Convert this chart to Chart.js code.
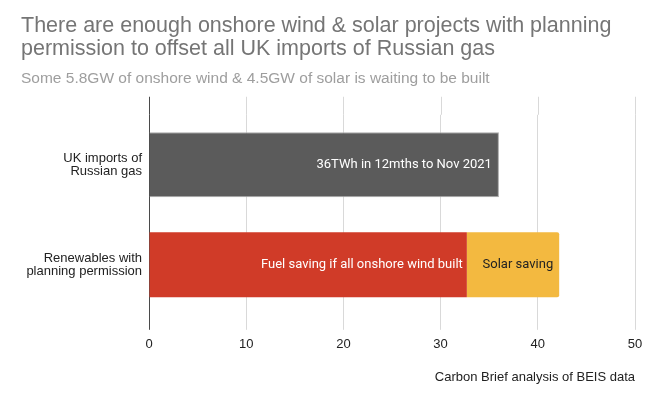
<!DOCTYPE html>
<html>
<head>
<meta charset="utf-8">
<script src="https://cdn.jsdelivr.net/npm/chart.js@4"></script>
<style>
  html, body { margin: 0; padding: 0; background: #ffffff; }
  #wrap { width: 654px; height: 399px; }
</style>
</head>
<body>
<div id="wrap"><canvas id="c" width="654" height="399"></canvas></div>
<script>
// ---- data ----
const categories = [["UK imports of", "Russian gas"], ["Renewables with", "planning permission"]];
const importsValues = [36, null];
const windValues = [null, 32.7];
const solarValues = [null, 9.5];
const importsLabel = "36TWh in 12mths to Nov 2021";
const windLabel = "Fuel saving if all onshore wind built";
const solarLabel = "Solar saving";
const xTicks = [0, 10, 20, 30, 40, 50];
const titleLines = ["There are enough onshore wind & solar projects with planning", "permission to offset all UK imports of Russian gas"];
const subtitleText = "Some 5.8GW of onshore wind & 4.5GW of solar is waiting to be built";
const sourceText = "Carbon Brief analysis of BEIS data";

const GRID = '#d9d9d9';
const AXIS0 = '#4a4a4a';

const barLabelPlugin = {
  id: 'barLabels',
  afterDatasetsDraw(chart) {
    const ctx = chart.ctx;
    ctx.save();
    ctx.font = '13px Roboto';
    ctx.textAlign = 'right';
    ctx.textBaseline = 'middle';
    chart.data.datasets.forEach((ds, i) => {
      const meta = chart.getDatasetMeta(i);
      meta.data.forEach((el, j) => {
        if (ds.data[j] == null) return;
        ctx.fillStyle = ds.labelColor;
        ctx.fillText(ds.barText, el.x - ds.labelPad, el.y);
      });
    });
    ctx.restore();
  }
};

const gridExtPlugin = {
  id: 'gridExt',
  beforeDatasetsDraw(chart) {
    const sx = chart.scales.x;
    const area = chart.chartArea;
    const ctx = chart.ctx;
    ctx.save();
    ctx.lineWidth = 1;
    sx.ticks.forEach(t => {
      const px = Math.round(sx.getPixelForValue(t.value)) + 0.5;
      ctx.strokeStyle = t.value === 0 ? AXIS0 : GRID;
      ctx.beginPath();
      ctx.moveTo(px, area.top - 18);
      ctx.lineTo(px, area.top);
      ctx.stroke();
    });
    ctx.restore();
  }
};

new Chart(document.getElementById('c'), {
  type: 'bar',
  data: {
    labels: categories,
    datasets: [
      { data: importsValues, backgroundColor: '#5b5b5b', borderColor: '#a9a9a9', borderWidth: 1,
        barText: importsLabel, labelColor: '#ffffff', labelPad: 7 },
      { data: windValues, backgroundColor: '#d03b28', borderWidth: 0,
        barText: windLabel, labelColor: '#ffffff', labelPad: 4 },
      { data: solarValues, backgroundColor: '#f3b940', borderWidth: 0,
        borderRadius: { topRight: 2, bottomRight: 2, topLeft: 0, bottomLeft: 0 }, borderSkipped: false,
        barText: solarLabel, labelColor: '#222222', labelPad: 6 }
    ]
  },
  options: {
    indexAxis: 'y',
    responsive: false,
    animation: false,
    devicePixelRatio: 1,
    layout: { padding: { left: 21, right: 19, top: 0, bottom: 14 } },
    datasets: { bar: { categoryPercentage: 1.0, barPercentage: 0.65 } },
    plugins: {
      legend: { display: false },
      tooltip: { enabled: false },
      title: {
        display: true, text: titleLines, align: 'start', color: '#757575',
        font: { family: 'Liberation Sans', size: 21.5, weight: 'normal', lineHeight: 1.05 },
        padding: { top: 15, bottom: 9 }
      },
      subtitle: {
        display: true, text: subtitleText, align: 'start', color: '#9e9e9e',
        font: { family: 'Liberation Sans', size: 15.5, weight: 'normal', lineHeight: 1.2 },
        padding: { top: 0, bottom: 27 }
      }
    },
    scales: {
      x: {
        stacked: true, min: 0, max: 50,
        afterBuildTicks(scale) { scale.ticks = xTicks.map(v => ({ value: v })); },
        grid: {
          color: ctx => (ctx.tick && ctx.tick.value === 0) ? AXIS0 : GRID,
          lineWidth: 1, drawTicks: true, tickLength: 15
        },
        border: { display: false },
        ticks: { color: '#222222', padding: 7, font: { family: 'Liberation Sans', size: 13, lineHeight: 1.2 } },
        title: {
          display: true, text: sourceText, align: 'end', color: '#222222',
          font: { family: 'Liberation Sans', size: 13, lineHeight: 1.2 },
          padding: { top: 10, bottom: 0 }
        }
      },
      y: {
        stacked: true,
        afterFit(scale) { scale.width = 128; },
        grid: { display: false, drawTicks: false, tickLength: 0 },
        border: { display: false },
        ticks: { color: '#222222', padding: 7, font: { family: 'Liberation Sans', size: 13, lineHeight: 1.0 } }
      }
    }
  },
  plugins: [gridExtPlugin, barLabelPlugin]
});
</script>
</body>
</html>
